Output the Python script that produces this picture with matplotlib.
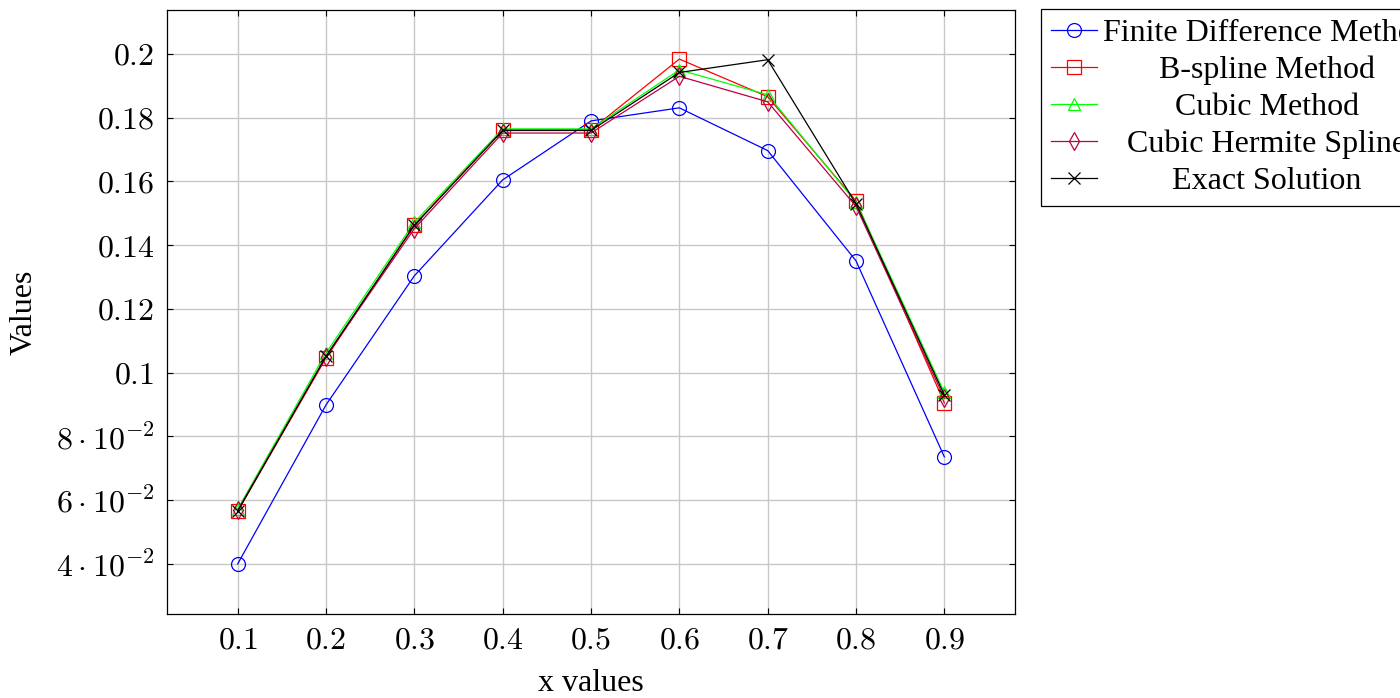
import numpy as np
import matplotlib
matplotlib.use("Agg")
import matplotlib.pyplot as plt

plt.rcParams['font.family'] = ['Liberation Serif', 'DejaVu Serif']
plt.rcParams['mathtext.fontset'] = 'cm'

# data
x_vals = [0.1, 0.2, 0.3, 0.4, 0.5, 0.6, 0.7, 0.8, 0.9]
fdm = [0.0400, 0.0899, 0.1304, 0.1605, 0.1790, 0.1831, 0.1697, 0.1351, 0.0736]
bspline = [0.0566, 0.1046, 0.1464, 0.1762, 0.1762, 0.1984, 0.1866, 0.1539, 0.0905]
cubic = [0.0572, 0.1062, 0.1472, 0.1765, 0.1765, 0.1950, 0.1872, 0.1535, 0.0938]
hermite = [0.0568, 0.1050, 0.1452, 0.1752, 0.1752, 0.1930, 0.1850, 0.1522, 0.0920]
exact = [0.0565, 0.1052, 0.1462, 0.1760, 0.1760, 0.1942, 0.1982, 0.1530, 0.0930]

y_ticks = [0.04, 0.06, 0.08, 0.1, 0.12, 0.14, 0.16, 0.18, 0.2]
y_labels = [r'$4\cdot10^{-2}$', r'$6\cdot10^{-2}$', r'$8\cdot10^{-2}$',
            r'$0.1$', r'$0.12$', r'$0.14$', r'$0.16$', r'$0.18$', r'$0.2$']

fs = 23

fig = plt.figure(figsize=(14, 6.98), dpi=100)
ax = fig.add_axes([167/1400, 1-614/698, 848/1400, 604/698])

lw = 0.9
ms = 10
ax.plot(x_vals, fdm, color='blue', lw=lw, marker='o', ms=ms, mfc='none', mew=lw, label='Finite Difference Method')
ax.plot(x_vals, bspline, color='red', lw=lw, marker='s', ms=ms, mfc='none', mew=lw, label='B-spline Method')
ax.plot(x_vals, cubic, color='#00ff00', lw=lw, marker='^', ms=ms*0.9, mfc='none', mew=lw, label='Cubic Method')
ax.plot(x_vals, hermite, color='#bf0040', lw=lw, marker='d', ms=ms*0.9, mfc='none', mew=lw, label='Cubic Hermite Spline')
ax.plot(x_vals, exact, color='black', lw=lw, marker='x', ms=ms*0.8, mew=lw, label='Exact Solution')

ax.set_xlim(0.02, 0.98)
ax.set_ylim(0.0243, 0.2138)
ax.set_xticks(x_vals)
ax.set_xticklabels([r'$%.1f$' % v for v in x_vals])
ax.set_yticks(y_ticks)
ax.set_yticklabels(y_labels)
ax.tick_params(direction='in', top=True, right=True, length=4, width=0.8, labelsize=fs, pad=9)
ax.grid(True, color='#c8c8c8', lw=1)
ax.set_axisbelow(True)
for s in ax.spines.values():
    s.set_linewidth(0.9)

ax.set_xlabel('x values', fontsize=fs, labelpad=10)
ax.set_ylabel('Values', fontsize=fs, labelpad=12)

leg = fig.legend(loc='upper left', bbox_to_anchor=(1041/1400, 1-9/698), fontsize=fs,
                 borderaxespad=0, frameon=True, fancybox=False, edgecolor='black', framealpha=1,
                 handlelength=1.45, handletextpad=0.2, borderpad=0.3, labelspacing=0.24)
leg.get_frame().set_linewidth(0.9)

# centre the legend entries like pgfplots does
fig.canvas.draw()
r = fig.canvas.get_renderer()
texts = leg.get_texts()
widths = [t.get_window_extent(r).width for t in texts]
wmax = max(widths)
for t, w in zip(texts, widths):
    t.set_x((wmax - w) / 2)

fig.savefig('out.png', dpi=100)
